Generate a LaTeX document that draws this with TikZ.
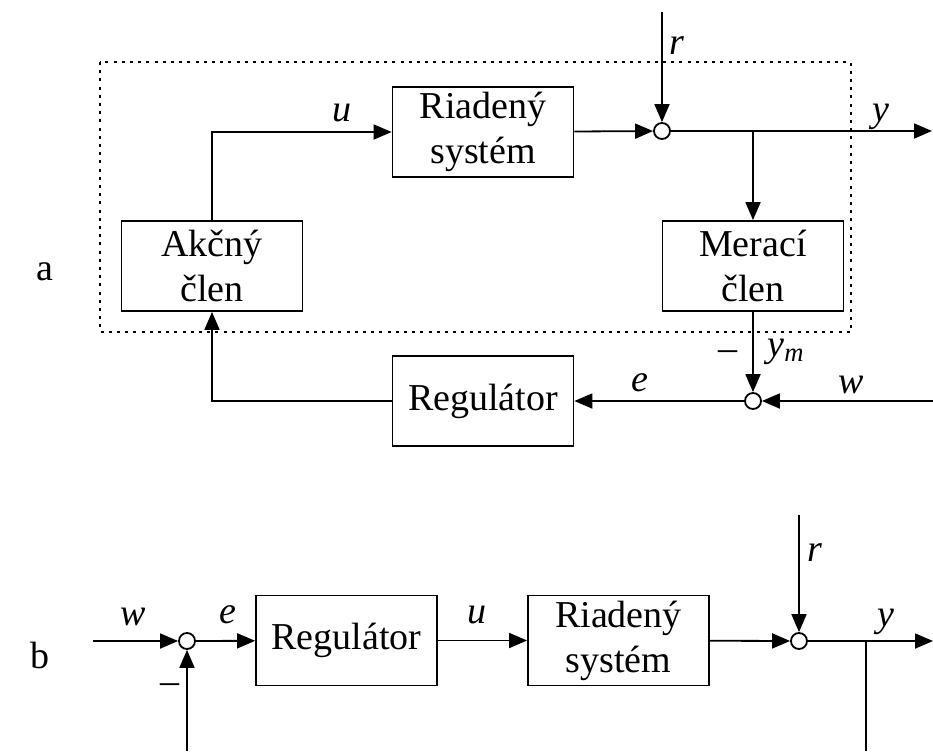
\documentclass[tikz,border=0pt]{standalone}
\usepackage{fontspec}
\setmainfont{Liberation Serif}
\usetikzlibrary{arrows.meta}
\tikzset{
  blok/.style={draw, line width=0.9pt, minimum width=90.5pt, minimum height=45pt, inner sep=0pt, align=center, font=\fontsize{19}{22.5}\selectfont},
  sucet/.style={draw, circle, line width=0.9pt, inner sep=0pt, minimum size=8pt},
  sig/.style={inner sep=0pt, font=\fontsize{19}{22}\selectfont\itshape},
  pism/.style={inner sep=0pt, font=\fontsize{19}{22}\selectfont},
  spoj/.style={line width=0.9pt, -{Triangle[length=9pt,width=7.5pt]}},
  ciara/.style={line width=0.9pt}
}
\begin{document}
\begin{tikzpicture}[x=0.5pt,y=-0.5pt]
\useasboundingbox (0,0) rectangle (933,751);
\draw[line width=1pt, dash pattern=on 1.5pt off 2.6pt] (100,62) rectangle (851,332);
\node[pism] (a) at (45,272) {a};
\node[blok] (ria) at (483,132) {Riadený\\systém};
\node[sucet] (s1) at (662,131) {};
\node[blok] (akc) at (212,266) {Akčný\\člen};
\node[blok] (mer) at (753,266) {Merací\\člen};
\node[blok] (reg) at (483,401) {Regulátor};
\node[sucet] (s2) at (753,401) {};
\coordinate (rin) at (662,12);
\coordinate (yout) at (932,131);
\coordinate (win) at (933,401);
\coordinate (odb) at (753,131);
\draw[spoj] (akc) |- (ria);
\draw[spoj] (ria) -- (s1);
\draw[spoj] (rin) -- (s1);
\draw[spoj] (s1) -- (yout);
\draw[spoj] (odb) -- (mer);
\draw[spoj] (mer) -- (s2);
\draw[spoj] (win) -- (s2);
\draw[spoj] (s2) -- (reg);
\draw[spoj] (reg) -| (akc);
\node[sig] (lu) at (342,113) {u};
\node[sig] (lr) at (677,46) {r};
\node[sig] (ly) at (881,117) {y};
\node[pism] (lm1) at (728,356) {\textendash};
\node[sig] (lym) at (786,352) {y\textsubscript{m}};
\node[sig] (le) at (640,383) {e};
\node[sig] (lw) at (851,385) {w};
\begin{scope}
\node[pism] (b) at (40,655) {b};
\node[sucet] (s3) at (187,641) {};
\node[blok] (reg2) at (346.5,640.5) {Regulátor};
\node[blok] (ria2) at (618.5,640.5) {Riadený\\systém};
\node[sucet] (s4) at (799,641) {};
\coordinate (win2) at (93,641);
\coordinate (rin2) at (799,515);
\coordinate (yout2) at (933,641);
\coordinate (odb2) at (866,641);
\coordinate (dno) at (866,751);
\draw[spoj] (win2) -- (s3);
\draw[spoj] (s3) -- (reg2);
\draw[spoj] (reg2) -- (ria2);
\draw[spoj] (ria2) -- (s4);
\draw[spoj] (rin2) -- (s4);
\draw[spoj] (s4) -- (yout2);
\draw[ciara] (odb2) -- (dno);
\draw[spoj] (s3 |- dno) -- (s3);
\node[sig] (lw2) at (133,617) {w};
\node[sig] (le2) at (228,615) {e};
\node[sig] (lu2) at (477,615) {u};
\node[sig] (lr2) at (815,553) {r};
\node[sig] (ly2) at (886,622) {y};
\node[pism] (lm2) at (170,689) {\textendash};
\end{scope}
\end{tikzpicture}
\end{document}
